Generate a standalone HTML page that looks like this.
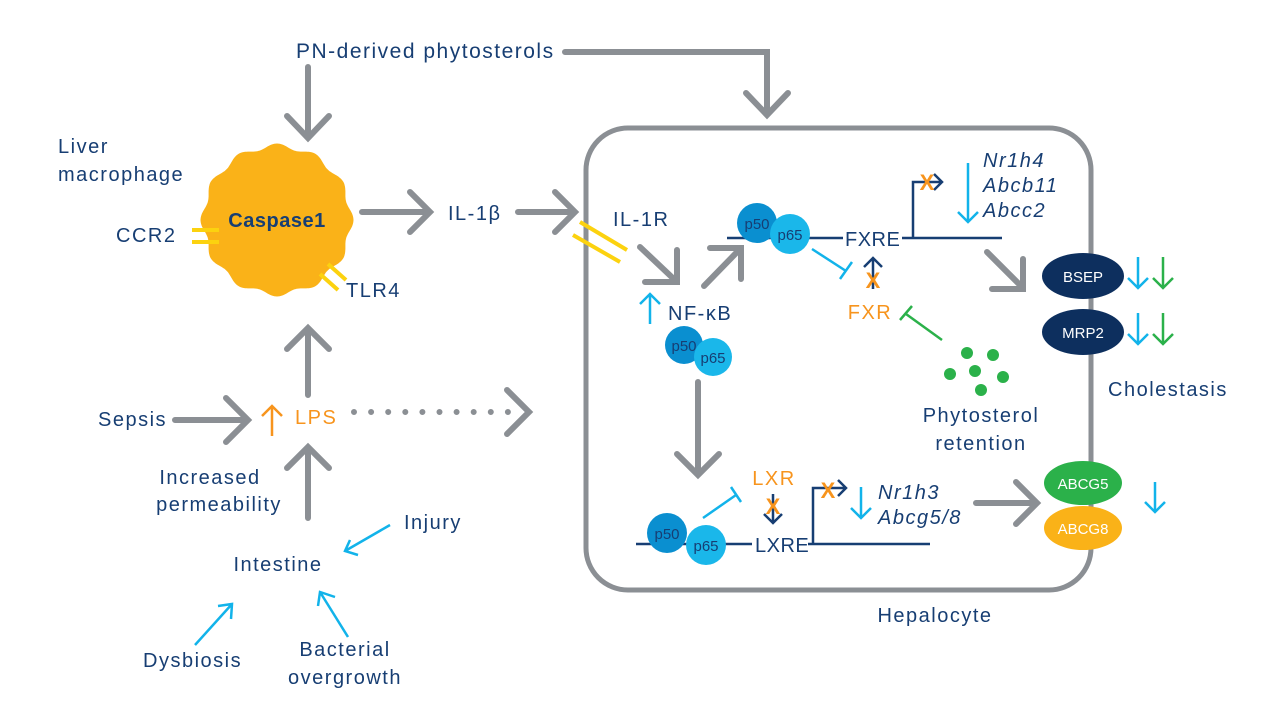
<!DOCTYPE html>
<html><head><meta charset="utf-8"><style>
html,body{margin:0;padding:0;background:#fff}
svg{display:block}
text{font-family:"Liberation Sans",sans-serif;fill:#173e73;letter-spacing:1.5px}
text.s{letter-spacing:0}
.g{stroke:#8b8f94;stroke-width:6;fill:none;stroke-linecap:round;stroke-linejoin:miter}
.c{stroke:#12b3ea;stroke-width:2.5;fill:none}
.n{stroke:#173e73;stroke-width:2.5;fill:none}
.it{font-style:italic}
</style></head><body>
<svg width="1280" height="720" viewBox="0 0 1280 720" xmlns="http://www.w3.org/2000/svg">
<rect x="586" y="128" width="505" height="462" rx="42" fill="none" stroke="#8b8f94" stroke-width="5"/>

<text x="296" y="58" font-size="21">PN-derived phytosterols</text>
<path class="g" d="M308 67 V138 M287 116 L308 138 L329 116"/>
<path class="g" d="M565 52 H767 V115 M746 93 L767 115 L788 93"/>

<path id="blob" fill="#fab218" d=""/>
<text x="58" y="153" font-size="20">Liver</text>
<text x="58" y="181" font-size="20">macrophage</text>
<text x="277" y="227" font-size="20" text-anchor="middle" style="font-weight:bold;letter-spacing:0.5px">Caspase1</text>
<text x="116" y="242" font-size="20">CCR2</text>
<path d="M192 230 H219 M192 242 H219" stroke="#fcd20f" stroke-width="4"/>
<path d="M320 274 L338 290 M328 264 L346 280" stroke="#fcd20f" stroke-width="4"/>
<text x="346" y="297" font-size="20">TLR4</text>
<path class="g" d="M362 212 H430 M410 192 L430 212 L410 232"/>
<text x="448" y="220" font-size="20">IL-1β</text>
<path class="g" d="M518 212 H575 M555 192 L575 212 L555 232"/>

<path class="g" d="M308 395 V328 M287 349 L308 328 L329 349"/>
<text x="98" y="426" font-size="20">Sepsis</text>
<path class="g" d="M175 420 H248 M226 398 L248 420 L226 442"/>
<path d="M272 436 V406 M262 416 L272 406 L282 416" stroke="#f7941d" stroke-width="2.5" fill="none"/>
<text x="295" y="424" font-size="20" style="fill:#f7941d">LPS</text>
<path d="M354 412 H508" stroke="#8b8f94" stroke-width="6" stroke-linecap="round" stroke-dasharray="0 17.1" fill="none"/>
<path class="g" d="M507 390 L529 412 L507 434"/>
<path class="g" d="M308 518 V447 M287 468 L308 447 L329 468"/>
<text x="210" y="484" font-size="20" text-anchor="middle">Increased</text>
<text x="219" y="511" font-size="20" text-anchor="middle">permeability</text>
<text x="278" y="571" font-size="20" text-anchor="middle">Intestine</text>
<text x="404" y="529" font-size="20">Injury</text>
<path class="c" d="M390 525 L345 551 M350 540 L345 551 L358 555"/>
<text x="143" y="667" font-size="20">Dysbiosis</text>
<path class="c" d="M195 645 L232 604 M218 606 L232 604 L231 619"/>
<text x="345" y="656" font-size="20" text-anchor="middle">Bacterial</text>
<text x="345" y="684" font-size="20" text-anchor="middle">overgrowth</text>
<path class="c" d="M348 637 L320 592 M318 606 L320 592 L335 597"/>

<path d="M580 222 L627 250 M573 235 L620 262" stroke="#fcd20f" stroke-width="4"/>
<text x="613" y="226" font-size="20">IL-1R</text>
<path class="g" d="M640 247 L677 282 M645 282 H677 V250"/>
<path d="M650 324 V294 M640 304 L650 294 L660 304" stroke="#12b3ea" stroke-width="2.5" fill="none"/>
<text x="668" y="320" font-size="20">NF-κB</text>
<circle cx="684" cy="345" r="19" fill="#0a8fd0"/><text class="s" x="684" y="351" font-size="15" text-anchor="middle">p50</text>
<circle cx="713" cy="357" r="19" fill="#1ab7ea"/><text class="s" x="713" y="363" font-size="15" text-anchor="middle">p65</text>
<path class="g" d="M704 286 L741 248 M710 248 H741 V279"/>

<path class="n" d="M727 238 H843 M902 238 H1002 M913 238 V182 H942 M934 174 L942 182 L934 190"/>
<circle cx="757" cy="223" r="20" fill="#0a8fd0"/><text class="s" x="757" y="229" font-size="15" text-anchor="middle">p50</text>
<circle cx="790" cy="234" r="20" fill="#1ab7ea"/><text class="s" x="790" y="240" font-size="15" text-anchor="middle">p65</text>
<text x="845" y="246" font-size="20" style="letter-spacing:0.5px">FXRE</text>
<text class="s" x="927" y="190" font-size="22" text-anchor="middle" style="fill:#f7941d;font-weight:bold">X</text>
<path class="c" d="M968 163 V222 M958 212 L968 222 L978 212"/>
<text x="983" y="167" font-size="20" class="it">Nr1h4</text>
<text x="983" y="192" font-size="20" class="it">Abcb11</text>
<text x="983" y="217" font-size="20" class="it">Abcc2</text>
<path class="c" d="M812 249 L846 271 M840 279 L852 262"/>
<path class="n" d="M873 289 V258 M864 267 L873 258 L882 267"/>
<text class="s" x="873" y="288" font-size="22" text-anchor="middle" style="fill:#f7941d;font-weight:bold">X</text>
<text x="870" y="319" font-size="20" text-anchor="middle" style="fill:#f7941d">FXR</text>
<path d="M942 340 L906 314 M900 320 L912 306" stroke="#2bb14a" stroke-width="2.5" fill="none"/>
<g fill="#2bb14a"><circle cx="967" cy="353" r="6"/><circle cx="993" cy="355" r="6"/><circle cx="950" cy="374" r="6"/><circle cx="975" cy="371" r="6"/><circle cx="1003" cy="377" r="6"/><circle cx="981" cy="390" r="6"/></g>
<text x="981" y="422" font-size="20" text-anchor="middle">Phytosterol</text>
<text x="981" y="450" font-size="20" text-anchor="middle">retention</text>
<path class="g" d="M987 252 L1023 288 M992 289 H1023 V259"/>
<ellipse cx="1083" cy="276" rx="41" ry="23" fill="#0d2f5e"/><text class="s" x="1083" y="282" font-size="15" text-anchor="middle" style="fill:#fff">BSEP</text>
<ellipse cx="1083" cy="332" rx="41" ry="23" fill="#0d2f5e"/><text class="s" x="1083" y="338" font-size="15" text-anchor="middle" style="fill:#fff">MRP2</text>
<path class="c" d="M1138 257 V288 M1128 278 L1138 288 L1148 278 M1138 313 V344 M1128 334 L1138 344 L1148 334"/>
<path d="M1163 257 V288 M1153 278 L1163 288 L1173 278 M1163 313 V344 M1153 334 L1163 344 L1173 334" stroke="#2bb14a" stroke-width="2.5" fill="none"/>
<text x="1108" y="396" font-size="20">Cholestasis</text>

<path class="g" d="M698 382 V475 M677 454 L698 475 L719 454"/>
<path class="n" d="M636 544 H752 M808 544 H930 M813 544 V488 H846 M838 480 L846 488 L838 496"/>
<circle cx="667" cy="533" r="20" fill="#0a8fd0"/><text class="s" x="667" y="539" font-size="15" text-anchor="middle">p50</text>
<circle cx="706" cy="545" r="20" fill="#1ab7ea"/><text class="s" x="706" y="551" font-size="15" text-anchor="middle">p65</text>
<text x="755" y="552" font-size="20" style="letter-spacing:0.5px">LXRE</text>
<text x="774" y="485" font-size="20" text-anchor="middle" style="fill:#f7941d">LXR</text>
<path class="n" d="M773 494 V523 M764 514 L773 523 L782 514"/>
<text class="s" x="773" y="514" font-size="22" text-anchor="middle" style="fill:#f7941d;font-weight:bold">X</text>
<path class="c" d="M703 518 L736 495 M731 487 L741 502"/>
<text class="s" x="828" y="498" font-size="22" text-anchor="middle" style="fill:#f7941d;font-weight:bold">X</text>
<path class="c" d="M861 487 V518 M851 508 L861 518 L871 508"/>
<text x="878" y="499" font-size="20" class="it">Nr1h3</text>
<text x="878" y="524" font-size="20" class="it">Abcg5/8</text>
<path class="g" d="M976 503 H1037 M1016 482 L1037 503 L1016 524"/>
<ellipse cx="1083" cy="483" rx="39" ry="22" fill="#2bb14a"/><text class="s" x="1083" y="489" font-size="15" text-anchor="middle" style="fill:#fff">ABCG5</text>
<ellipse cx="1083" cy="528" rx="39" ry="22" fill="#fab218"/><text class="s" x="1083" y="534" font-size="15" text-anchor="middle" style="fill:#fff">ABCG8</text>
<path class="c" d="M1155 482 V512 M1145 502 L1155 512 L1165 502"/>
<text x="935" y="622" font-size="20" text-anchor="middle">Hepalocyte</text>
</svg>
<script>
(function(){var cx=277,cy=220,R=74,A=2.5,N=12,d="";for(var i=0;i<=360;i++){var t=i*Math.PI/180;var r=R+A*Math.cos(N*t);var x=cx+r*Math.cos(t),y=cy+r*Math.sin(t);d+=(i?"L":"M")+x.toFixed(1)+" "+y.toFixed(1);}document.getElementById("blob").setAttribute("d",d+"Z");})();
</script>
</body></html>
